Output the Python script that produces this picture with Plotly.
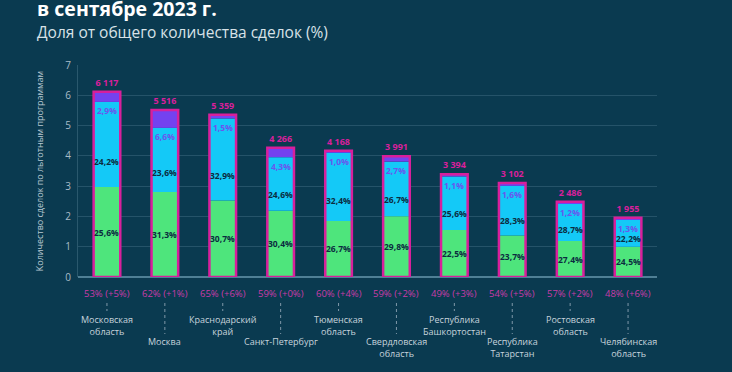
import plotly.graph_objects as go

regions = ["Московская<br>область", "Москва", "Краснодарский<br>край", "Санкт-Петербург",
           "Тюменская<br>область", "Свердловская<br>область", "Республика<br>Башкортостан",
           "Республика<br>Татарстан", "Ростовская<br>область", "Челябинская<br>область"]
totals = [6117, 5516, 5359, 4266, 4168, 3991, 3394, 3102, 2486, 1955]
green_pct = [25.6, 31.3, 30.7, 30.4, 26.7, 29.8, 22.5, 23.7, 27.4, 24.5]
cyan_pct = [24.2, 23.6, 32.9, 24.6, 32.4, 26.7, 25.6, 28.3, 28.7, 22.2]
purple_pct = [2.9, 6.6, 1.5, 4.3, 1.0, 2.7, 1.1, 1.6, 1.2, 1.3]
share_labels = ["53% (+5%)", "62% (+1%)", "65% (+6%)", "59% (+0%)", "60% (+4%)",
                "59% (+2%)", "49% (+3%)", "54% (+5%)", "57% (+2%)", "48% (+6%)"]
y_ticks = [0, 1, 2, 3, 4, 5, 6, 7]

BG = "#0a3a50"
GREEN = "#4ee57c"
CYAN = "#14c9f7"
PURPLE = "#7442ef"
MAGENTA = "#d81f9c"
DARK = "#0b2c40"
PLABEL = "#6b55ee"
FONT = "Open Sans"

n = len(regions)
x = list(range(n))
h_green, h_cyan, h_purple = [], [], []
for t, g, c, p in zip(totals, green_pct, cyan_pct, purple_pct):
    s = g + c + p
    h = t / 1000
    h_green.append(h * g / s)
    h_cyan.append(h * c / s)
    h_purple.append(h * p / s)
base_cyan = h_green
base_purple = [a + b for a, b in zip(h_green, h_cyan)]
tot_h = [t / 1000 for t in totals]

def fmt_pct(v):
    return f"{v:.1f}".replace(".", ",") + "%"

def fmt_num(v):
    return f"{v:,}".replace(",", " ")

W = 0.46
fig = go.Figure()
fig.add_bar(x=x, y=h_green, base=[0] * n, width=W, marker=dict(color=GREEN, line=dict(width=0)),
            hoverinfo="skip")
fig.add_bar(x=x, y=h_cyan, base=base_cyan, width=W, marker=dict(color=CYAN, line=dict(width=0)),
            hoverinfo="skip")
fig.add_bar(x=x, y=h_purple, base=base_purple, width=W, marker=dict(color=PURPLE, line=dict(width=0)),
            hoverinfo="skip")
fig.add_bar(x=x, y=tot_h, base=[0] * n, width=W,
            marker=dict(color="rgba(0,0,0,0)", line=dict(color=MAGENTA, width=2.5)),
            text=[fmt_num(t) for t in totals], textposition="outside",
            textfont=dict(color=MAGENTA, size=9, family=FONT, weight="bold"),
            cliponaxis=False, hoverinfo="skip")

ann = []
for i in range(n):
    ann.append(dict(x=i, y=h_green[i] / 2, xref="x", yref="y", text=fmt_pct(green_pct[i]),
                    showarrow=False, font=dict(color=DARK, size=8.5, family=FONT, weight="bold")))
    ann.append(dict(x=i, y=h_green[i] + 0.3 * h_cyan[i], xref="x", yref="y", text=fmt_pct(cyan_pct[i]),
                    showarrow=False, font=dict(color=DARK, size=8.5, family=FONT, weight="bold")))
    ann.append(dict(x=i, y=base_purple[i], yshift=-9, xref="x", yref="y", text=fmt_pct(purple_pct[i]),
                    showarrow=False, font=dict(color=PLABEL, size=8.5, family=FONT, weight="bold")))
    ann.append(dict(x=i, y=0, yshift=-16, xref="x", yref="y", text=share_labels[i],
                    showarrow=False, font=dict(color="#c93aa8", size=9.5, family=FONT)))
    lower = i % 2 == 1
    ann.append(dict(x=i, y=0, yshift=-56 if lower else -34, yanchor="top", xref="x", yref="y",
                    text=regions[i], showarrow=False,
                    font=dict(color="#c6d3dc", size=9, family=FONT)))

PH = 212.0
shapes = []
for i in range(n):
    xp = (i + 0.5) / n
    lower = i % 2 == 1
    y0 = -(303 - 277) / PH
    y1 = -((334 if lower else 311) - 277) / PH
    shapes.append(dict(type="line", xref="paper", yref="paper", x0=xp, x1=xp, y0=y0, y1=y1,
                       line=dict(color="#7f98a8", width=1, dash="dot")))

ann.append(dict(xref="paper", yref="paper", x=(35 - 78) / 579, y=(277 - 8) / PH, xanchor="left",
                yanchor="middle", text="<b>в сентябре 2023 г.</b>", showarrow=False,
                font=dict(color="white", size=19.5, family=FONT)))
ann.append(dict(xref="paper", yref="paper", x=(35 - 78) / 579, y=(277 - 32) / PH, xanchor="left",
                yanchor="middle", text="Доля от общего количества сделок (%)", showarrow=False,
                font=dict(color="#d8e2e8", size=15.5, family=FONT)))

fig.update_layout(
    width=732, height=372, barmode="overlay", showlegend=False,
    paper_bgcolor=BG, plot_bgcolor=BG,
    margin=dict(l=78, r=75, t=65, b=95),
    annotations=ann, shapes=shapes,
    xaxis=dict(range=[-0.5, n - 0.5], showticklabels=False, showgrid=False, zeroline=False,
               showline=False, fixedrange=True),
    yaxis=dict(range=[0, 7], tickvals=y_ticks, showgrid=True, gridcolor="rgba(120,160,180,0.25)",
               gridwidth=1, zeroline=True, zerolinecolor="#4f7f95", zerolinewidth=1.5,
               showline=True, linecolor="rgba(120,160,180,0.3)", linewidth=1,
               tickfont=dict(color="#a9bcc8", size=10, family=FONT), ticks="", ticklabelstandoff=4,
               title=dict(text="Количество сделок по льготным программам",
                          font=dict(color="#b9c9d3", size=9, family=FONT), standoff=20)),
)

fig.write_html("out.html", config={"displayModeBar": False},
               post_script="document.body.style.margin='0';document.body.style.background='" + BG + "';")
